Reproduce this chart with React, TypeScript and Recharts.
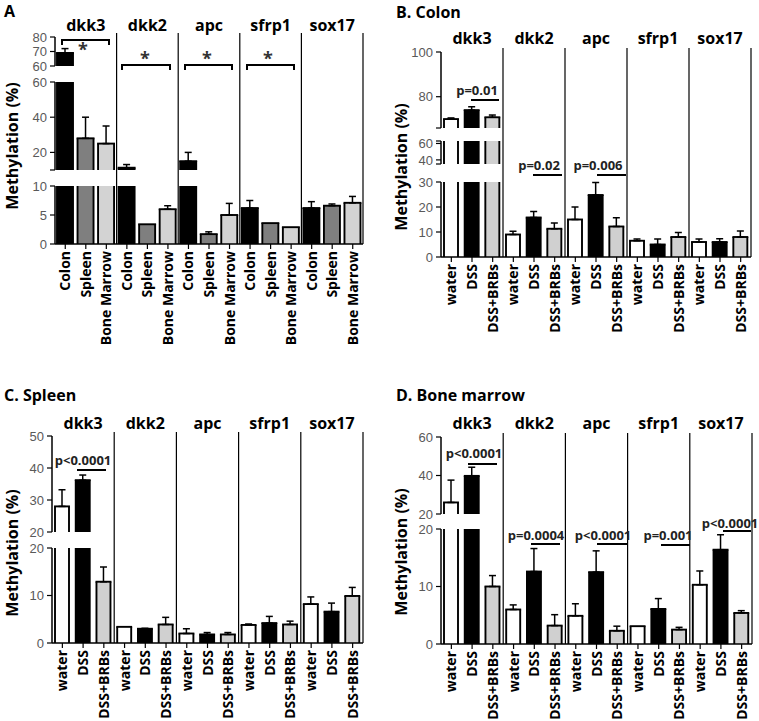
import React from 'react';
import { BarChart, Bar, XAxis, YAxis, ErrorBar, ReferenceLine } from 'recharts';

const genes = ['dkk3', 'dkk2', 'apc', 'sfrp1', 'sox17'];
const tissueLabels = ['Colon', 'Spleen', 'Bone Marrow'];
const treatmentLabels = ['water', 'DSS', 'DSS+BRBs'];

// Panel A – methylation by tissue (one value per gene)
const aColon = [69, 11.3, 15, 6.2, 6.2];
const aColonErr = [3, 1.8, 5, 1.3, 1.1];
const aSpleen = [28, 3.4, 1.7, 3.6, 6.6];
const aSpleenErr = [12, 0, 0.4, 0, 0.3];
const aMarrow = [25, 6, 5, 2.9, 7.1];
const aMarrowErr = [10, 0.6, 2, 0, 1.1];

// Panel B – Colon
const bWater = [70, 9, 15, 6.5, 6];
const bWaterErr = [0.5, 1.3, 5, 0.7, 1.2];
const bDSS = [74, 15.8, 24.8, 5, 6];
const bDSSErr = [1.5, 2.4, 5, 2.2, 1.3];
const bBRB = [70.8, 11.3, 12.2, 8, 8];
const bBRBErr = [1, 2.3, 3.5, 1.8, 2.4];

// Panel C – Spleen
const cWater = [28, 3.4, 2, 3.8, 8.2];
const cWaterErr = [5.2, 0, 1, 0.2, 1.5];
const cDSS = [36.2, 3, 1.8, 4.2, 6.6];
const cDSSErr = [1.6, 0.1, 0.4, 1.4, 1.8];
const cBRB = [12.9, 3.9, 1.8, 3.9, 9.9];
const cBRBErr = [3.1, 1.5, 0.4, 0.7, 1.8];

// Panel D – Bone marrow
const dWater = [26, 6, 4.9, 3.1, 10.3];
const dWaterErr = [11.6, 0.8, 2.1, 0, 2.4];
const dDSS = [39.8, 12.6, 12.5, 6.1, 16.4];
const dDSSErr = [4.5, 4, 3.7, 1.8, 2.6];
const dBRB = [10, 3.2, 2.3, 2.5, 5.4];
const dBRBErr = [1.9, 1.9, 0.8, 0.4, 0.4];

const fillsTissue = ['#000000', '#7f7f7f', '#d3d3d3'];
const fillsTreat = ['#ffffff', '#000000', '#d0d0d0'];

type Row = { key: string; v: number; e: number; fill: string };

function makeRows(vals: number[][], errs: number[][], fills: string[]): Row[] {
  const rows: Row[] = [];
  genes.forEach((_g, gi) => {
    for (let j = 0; j < 3; j++) {
      rows.push({ key: `${gi}-${j}`, v: vals[j][gi], e: errs[j][gi], fill: fills[j] });
    }
  });
  return rows;
}

const rowsA = makeRows([aColon, aSpleen, aMarrow], [aColonErr, aSpleenErr, aMarrowErr], fillsTissue);
const rowsB = makeRows([bWater, bDSS, bBRB], [bWaterErr, bDSSErr, bBRBErr], fillsTreat);
const rowsC = makeRows([cWater, cDSS, cBRB], [cWaterErr, cDSSErr, cBRBErr], fillsTreat);
const rowsD = makeRows([dWater, dDSS, dBRB], [dWaterErr, dDSSErr, dBRBErr], fillsTreat);

type Seg = { lo: number; hi: number; top: number; bot: number; ticks: number[]; labels: number[] };

const YW = 40;
const FONT = "'Open Sans', 'DejaVu Sans', sans-serif";
const TICKFONT = "'Liberation Sans', Arial, sans-serif";

const BarShape = (props: any) => {
  const { x, y, width, height, payload } = props;
  if (!(height > 0.3) || !(width > 0)) return null;
  const sw = 1.9;
  return (
    <g>
      <rect x={x} y={y} width={width} height={height} fill={payload.fill} />
      <line x1={x} y1={y} x2={x} y2={y + height} stroke="#000" strokeWidth={sw} />
      <line x1={x + width} y1={y} x2={x + width} y2={y + height} stroke="#000" strokeWidth={sw} />
      {!payload.cut && (
        <line x1={x - sw / 2} y1={y} x2={x + width + sw / 2} y2={y} stroke="#000" strokeWidth={sw} />
      )}
    </g>
  );
};

function Segment(props: {
  rows: Row[];
  labels: string[];
  left: number;
  x0: number;
  x1: number;
  seg: Seg;
  isBottom: boolean;
  barSize: number;
}) {
  const { rows, labels, left, x0, x1, seg, isBottom, barSize } = props;
  const mt = 8;
  const xh = isBottom ? 110 : 0;
  const mb = isBottom ? 0 : 8;
  const height = seg.bot - seg.top + mt + mb + xh;
  const width = x1 - left + 4;
  const data = rows.map((r) => {
    const inSeg = r.v > seg.lo;
    const topHere = inSeg && r.v <= seg.hi;
    return {
      key: r.key,
      fill: r.fill,
      v: inSeg ? Math.min(r.v, seg.hi) : seg.lo,
      cut: r.v > seg.hi,
      eb: topHere && r.e > 0 ? [0, r.e] : null,
    };
  });
  const xTick = (p: any) => {
    const j = Number(String(p.payload.value).split('-')[1]);
    return (
      <text
        transform={`translate(${p.x + 5},${p.y}) rotate(-90)`}
        textAnchor="end"
        fontSize={14}
        fontWeight={700}
        fontFamily={FONT}
        fill="#000"
      >
        {labels[j]}
      </text>
    );
  };
  return (
    <div style={{ position: 'absolute', left, top: seg.top - mt }}>
      <BarChart
        width={width}
        height={height}
        data={data}
        margin={{ top: mt, right: 4, bottom: mb, left: x0 - left - YW }}
        barSize={barSize}
      >
        <XAxis
          dataKey="key"
          hide={!isBottom}
          height={xh}
          interval={0}
          tickSize={5}
          tickMargin={2}
          axisLine={{ stroke: '#000', strokeWidth: 1.5 }}
          tickLine={{ stroke: '#000', strokeWidth: 1.2 }}
          tick={xTick}
        />
        <YAxis
          type="number"
          domain={[seg.lo, seg.hi]}
          ticks={seg.ticks}
          interval={0}
          allowDataOverflow
          width={YW}
          tickSize={5}
          tickMargin={3}
          axisLine={{ stroke: '#000', strokeWidth: 1.5 }}
          tickLine={{ stroke: '#000', strokeWidth: 1.2 }}
          tick={{ fill: '#595959', fontSize: 13, fontFamily: TICKFONT }}
          tickFormatter={(v: number) => (seg.labels.includes(v) ? String(v) : '')}
        />
        <Bar dataKey="v" shape={BarShape} isAnimationActive={false}>
          <ErrorBar dataKey="eb" width={3.5} stroke="#000" strokeWidth={1.5} direction="y" />
        </Bar>
      </BarChart>
    </div>
  );
}

function Overlay(props: { rows: Row[]; left: number; x0: number; x1: number; top: number; bot: number; headerY: number }) {
  const { rows, left, x0, x1, top, bot, headerY } = props;
  const T = headerY - 14;
  const xh = top - T;
  const data = rows.map((r) => ({ key: r.key, z: 0 }));
  const geneTick = (p: any) => {
    const [gi, j] = String(p.payload.value).split('-').map(Number);
    if (j !== 1) return <g />;
    return (
      <text x={p.x} y={headerY - T + 5.5} textAnchor="middle" fontSize={16} fontWeight={700} fontFamily={FONT} fill="#000">
        {genes[gi]}
      </text>
    );
  };
  return (
    <div style={{ position: 'absolute', left, top: T, pointerEvents: 'none' }}>
      <BarChart width={x1 - left + 4} height={bot - T} data={data} margin={{ top: 0, right: 4, bottom: 0, left: x0 - left - YW }}>
        <XAxis
          dataKey="key"
          orientation="top"
          height={xh}
          interval={0}
          axisLine={false}
          tickLine={false}
          tickSize={0}
          tickMargin={0}
          tick={geneTick}
        />
        <YAxis type="number" width={YW} domain={[0, 1]} axisLine={false} tickLine={false} tick={false} />
        <Bar dataKey="z" fill="none" isAnimationActive={false} />
        {genes.map((g, gi) => (
          <ReferenceLine
            key={g}
            x={`${gi}-2`}
            position="end"
            ifOverflow="visible"
            stroke="#000"
            strokeWidth={1.2}
          />
        ))}
      </BarChart>
    </div>
  );
}

type PanelCfg = {
  rows: Row[];
  labels: string[];
  left: number;
  x0: number;
  x1: number;
  headerY: number;
  barSize: number;
  segs: Seg[];
};

const panels: PanelCfg[] = [
  {
    rows: rowsA,
    labels: tissueLabels,
    left: 0,
    x0: 55,
    x1: 363,
    headerY: 25,
    barSize: 16,
    segs: [
      { lo: 60, hi: 80, top: 37, bot: 66, ticks: [60, 70, 80], labels: [60, 70, 80] },
      { lo: 10, hi: 60, top: 82, bot: 170, ticks: [10, 20, 40, 60], labels: [20, 40, 60] },
      { lo: 0, hi: 10, top: 186, bot: 244, ticks: [0, 5, 10], labels: [0, 5, 10] },
    ],
  },
  {
    rows: rowsB,
    labels: treatmentLabels,
    left: 380,
    x0: 441,
    x1: 751,
    headerY: 38,
    barSize: 14,
    segs: [
      { lo: 66, hi: 100, top: 52, bot: 128, ticks: [66, 80, 100], labels: [80, 100] },
      { lo: 35, hi: 63, top: 141, bot: 164, ticks: [35, 40, 60, 63], labels: [40, 60] },
      { lo: 0, hi: 30, top: 182, bot: 257, ticks: [0, 10, 20, 30], labels: [0, 10, 20, 30] },
    ],
  },
  {
    rows: rowsC,
    labels: treatmentLabels,
    left: 0,
    x0: 52,
    x1: 363,
    headerY: 423,
    barSize: 14,
    segs: [
      { lo: 20, hi: 50, top: 436, bot: 532, ticks: [20, 30, 40, 50], labels: [20, 30, 40, 50] },
      { lo: 0, hi: 20, top: 548, bot: 643, ticks: [0, 10, 20], labels: [0, 10, 20] },
    ],
  },
  {
    rows: rowsD,
    labels: treatmentLabels,
    left: 380,
    x0: 441,
    x1: 752,
    headerY: 423,
    barSize: 14,
    segs: [
      { lo: 20, hi: 60, top: 437, bot: 514, ticks: [20, 40, 60], labels: [20, 40, 60] },
      { lo: 0, hi: 20, top: 529, bot: 644, ticks: [0, 10, 20], labels: [0, 10, 20] },
    ],
  },
];

const Bracket = ({ x1, x2, y }: { x1: number; x2: number; y: number }) => (
  <path d={`M${x1},${y + 5} V${y} H${x2} V${y + 5}`} fill="none" stroke="#000" strokeWidth={2} />
);

const PVal = ({ text, tx, ty, lx1, lx2, ly }: { text: string; tx: number; ty: number; lx1: number; lx2: number; ly: number }) => (
  <g>
    <text x={tx} y={ty + 4.5} textAnchor="middle" fontSize={13} fontWeight={700} fontFamily={FONT} fill="#222">
      {text}
    </text>
    <line x1={lx1} y1={ly} x2={lx2} y2={ly} stroke="#000" strokeWidth={2} />
  </g>
);

function Annotations() {
  const star = (x: number, y: number) => (
    <text x={x} y={y + 8} textAnchor="middle" fontSize={18} fontWeight={700} fontFamily={FONT} fill="#333">
      *
    </text>
  );
  const ylab = (cx: number, cy: number) => (
    <text
      transform={`translate(${cx + 5.5},${cy}) rotate(-90)`}
      textAnchor="middle"
      fontSize={16}
      fontWeight={700}
      fontFamily={FONT}
      fill="#000"
    >
      Methylation (%)
    </text>
  );
  return (
    <svg width={759} height={721} style={{ position: 'absolute', left: 0, top: 0, pointerEvents: 'none' }}>
      <g fontFamily={FONT} fontWeight={700} fontSize={16} fill="#000">
        <text x={4} y={17}>A</text>
        <text x={396} y={18}>B. Colon</text>
        <text x={4} y={401}>C. Spleen</text>
        <text x={396} y={401}>D. Bone marrow</text>
      </g>
      {ylab(12, 146)}
      {ylab(401, 167)}
      {ylab(12, 553)}
      {ylab(401, 552)}
      <Bracket x1={62} x2={109} y={40} />
      {star(83, 48)}
      <Bracket x1={122} x2={170} y={65} />
      {star(145, 57)}
      <Bracket x1={185} x2={232} y={65} />
      {star(207, 57)}
      <Bracket x1={247} x2={294} y={65} />
      {star(268, 57)}
      <PVal text="p=0.01" tx={477} ty={90} lx1={471} lx2={499} ly={100} />
      <PVal text="p=0.02" tx={539} ty={165} lx1={533} lx2={562} ly={175} />
      <PVal text="p=0.006" tx={598} ty={165} lx1={597} lx2={626} ly={175} />
      <PVal text="p<0.0001" tx={83} ty={460} lx1={77} lx2={106} ly={470} />
      <PVal text="p<0.0001" tx={474} ty={453} lx1={468} lx2={497} ly={464} />
      <PVal text="p=0.0004" tx={536} ty={535} lx1={531} lx2={560} ly={544} />
      <PVal text="p<0.0001" tx={603} ty={535} lx1={597} lx2={627} ly={544} />
      <PVal text="p=0.001" tx={668} ty={535} lx1={661} lx2={690} ly={545} />
      <PVal text="p<0.0001" tx={730} ty={523} lx1={723} lx2={751} ly={531} />
    </svg>
  );
}

export default function App() {
  return (
    <div style={{ position: 'absolute', left: 0, top: 0, width: 759, height: 721, background: '#fff', fontFamily: FONT }}>
      {panels.map((p, pi) => (
        <React.Fragment key={pi}>
          {p.segs.map((s, si) => (
            <Segment
              key={si}
              rows={p.rows}
              labels={p.labels}
              left={p.left}
              x0={p.x0}
              x1={p.x1}
              seg={s}
              isBottom={si === p.segs.length - 1}
              barSize={p.barSize}
            />
          ))}
          <Overlay
            rows={p.rows}
            left={p.left}
            x0={p.x0}
            x1={p.x1}
            top={p.segs[0].top - 4}
            bot={p.segs[p.segs.length - 1].bot}
            headerY={p.headerY}
          />
        </React.Fragment>
      ))}
      <Annotations />
    </div>
  );
}
